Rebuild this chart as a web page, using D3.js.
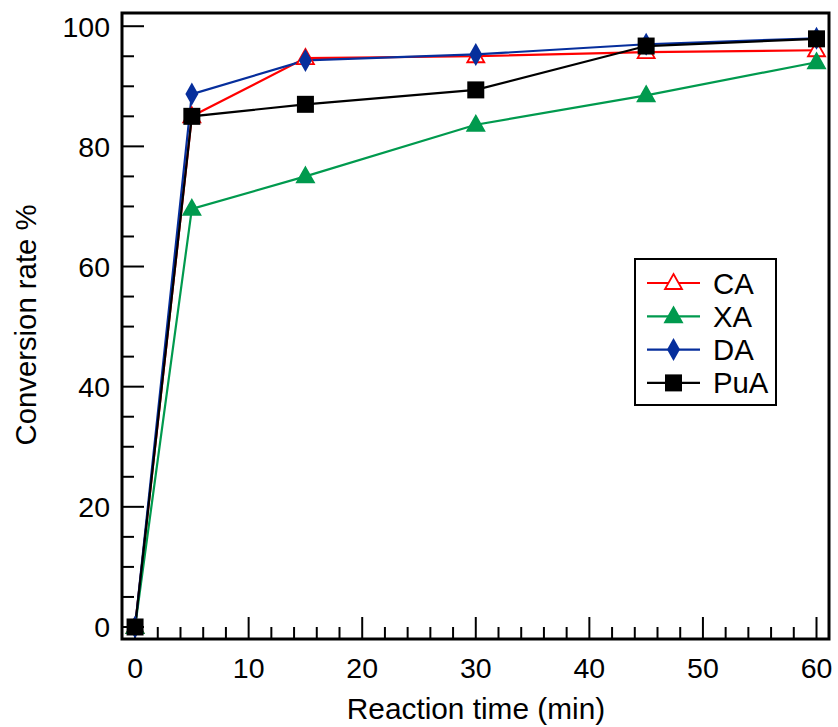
<!DOCTYPE html>
<html><head><meta charset="utf-8">
<script src="https://cdn.jsdelivr.net/npm/d3@7"></script>
<style>body{margin:0;background:#fff}svg{display:block}text{font-family:"Liberation Sans",Arial,sans-serif;fill:#000}</style>
</head><body><div id="chart"></div>
<script>
const times = [0, 5, 15, 30, 45, 60];
const seriesNames = ["CA", "XA", "DA", "PuA"];
const caValues = [0, 85.0, 94.7, 95.0, 95.7, 96.0];
const xaValues = [0, 69.6, 75.0, 83.6, 88.5, 94.0];
const daValues = [0, 88.7, 94.3, 95.3, 97.0, 98.0];
const puaValues = [0, 85.0, 87.0, 89.4, 96.7, 97.9];
const xTicks = [0, 10, 20, 30, 40, 50, 60];
const yTicks = [0, 20, 40, 60, 80, 100];
const xLabel = "Reaction time (min)";
const yLabel = "Conversion rate %";

const W = 838, H = 727;
const L = 122, R = 829, T = 13, B = 639;
const svg = d3.select("#chart").append("svg").attr("width", W).attr("height", H);
const x = d3.scaleLinear().domain([-1.15, 61.1]).range([L, R]);
const y = d3.scaleLinear().domain([-2, 102.2]).range([B, T]);

const series = [
  {name: "CA", values: caValues, color: "#ff0000", shape: "triOpen"},
  {name: "XA", values: xaValues, color: "#009a4e", shape: "tri"},
  {name: "DA", values: daValues, color: "#062e9c", shape: "diamond"},
  {name: "PuA", values: puaValues, color: "#000000", shape: "square"}
];

function marker(g, s, cx, cy) {
  if (s.shape === "triOpen" || s.shape === "tri") {
    const h = 15, w = 17;
    g.append("path").attr("d", `M${cx},${cy - h*0.6}L${cx + w/2},${cy + h*0.4}L${cx - w/2},${cy + h*0.4}Z`)
      .attr("fill", s.shape === "tri" ? s.color : "#fff").attr("stroke", s.color).attr("stroke-width", 1.8);
  } else if (s.shape === "diamond") {
    g.append("path").attr("d", `M${cx},${cy - 11.5}L${cx + 6.5},${cy}L${cx},${cy + 11.5}L${cx - 6.5},${cy}Z`)
      .attr("fill", s.color);
  } else {
    g.append("rect").attr("x", cx - 8.5).attr("y", cy - 8.5).attr("width", 17).attr("height", 17).attr("fill", s.color);
  }
}

// ticks (inward)
const axisG = svg.append("g");
const xMinor = d3.range(0, 61, 2);
xMinor.forEach(v => {
  const major = v % 10 === 0;
  axisG.append("line").attr("x1", x(v)).attr("x2", x(v)).attr("y1", B).attr("y2", B - (major ? 22 : 12))
    .attr("stroke", "#000").attr("stroke-width", 2);
});
const yMinor = d3.range(0, 101, 5);
yMinor.forEach(v => {
  const major = v % 20 === 0;
  axisG.append("line").attr("y1", y(v)).attr("y2", y(v)).attr("x1", L).attr("x2", L + (major ? 22 : 12))
    .attr("stroke", "#000").attr("stroke-width", 2);
});
xTicks.forEach(v => {
  axisG.append("text").attr("x", x(v)).attr("y", 678).attr("text-anchor", "middle").attr("font-size", 28.5).text(v);
});
yTicks.forEach(v => {
  axisG.append("text").attr("x", 110).attr("y", y(v) + 10.3).attr("text-anchor", "end").attr("font-size", 28.5).text(v);
});
svg.append("text").attr("x", 476).attr("y", 719).attr("text-anchor", "middle").attr("font-size", 29.8).text(xLabel);
svg.append("text").attr("transform", `translate(36,${325}) rotate(-90)`).attr("text-anchor", "middle").attr("font-size", 29.3).text(yLabel);

// lines
const line = d3.line().x((d, i) => x(times[i])).y(d => y(d));
series.forEach(s => {
  svg.append("path").datum(s.values).attr("d", line).attr("fill", "none").attr("stroke", s.color).attr("stroke-width", 2.2);
});
series.forEach(s => {
  const g = svg.append("g");
  s.values.forEach((v, i) => marker(g, s, x(times[i]), y(v)));
});

// frame
svg.append("rect").attr("x", L).attr("y", T).attr("width", R - L).attr("height", B - T)
  .attr("fill", "none").attr("stroke", "#000").attr("stroke-width", 3);

// legend
const lg = svg.append("g");
lg.append("rect").attr("x", 635).attr("y", 259).attr("width", 141).attr("height", 146)
  .attr("fill", "#fff").attr("stroke", "#000").attr("stroke-width", 2);
series.forEach((s, i) => {
  const cy = 283 + i * 33.3;
  lg.append("line").attr("x1", 647).attr("x2", 700).attr("y1", cy).attr("y2", cy).attr("stroke", s.color).attr("stroke-width", 2.2);
  marker(lg, s, 673.5, cy);
  lg.append("text").attr("x", 713).attr("y", cy + 10.5).attr("font-size", 29.3).text(seriesNames[i]);
});
</script></body></html>
